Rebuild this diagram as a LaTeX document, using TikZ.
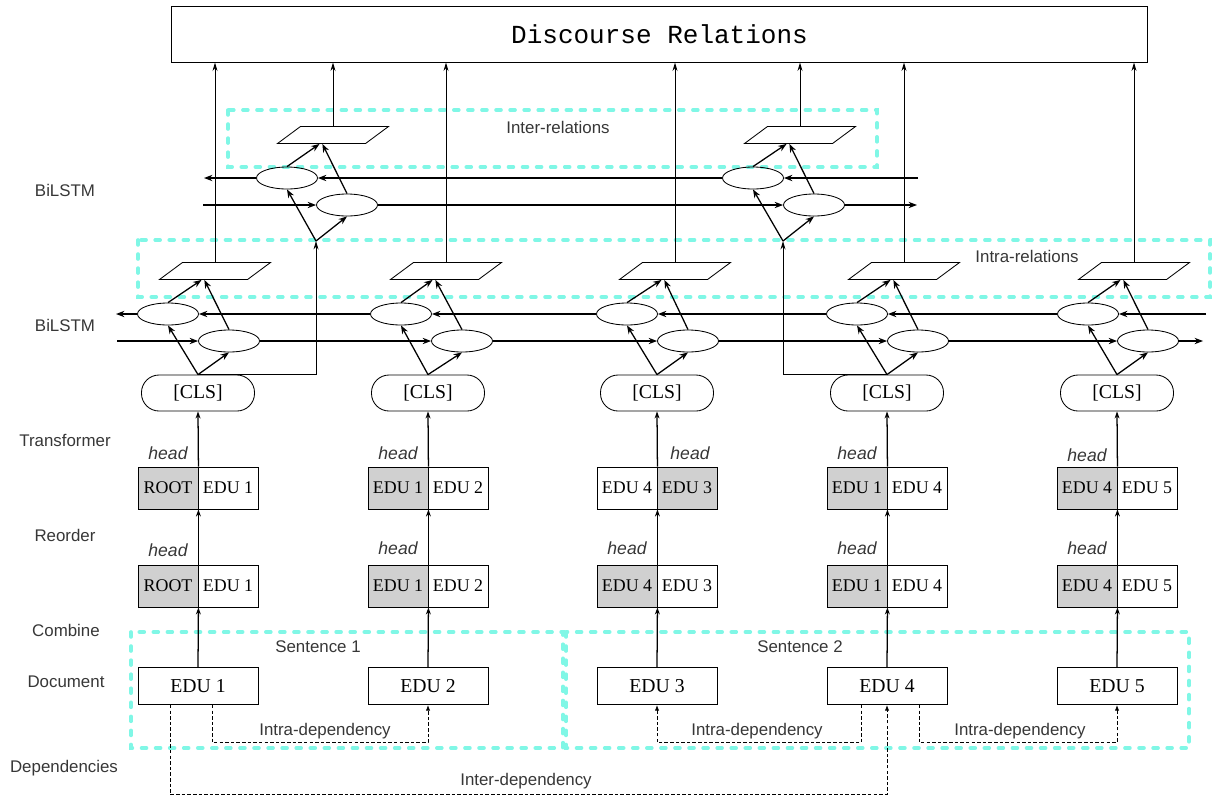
\documentclass[tikz,border=0pt]{standalone}
\usepackage{fontspec}
\setmainfont{Liberation Serif}
\setsansfont{Liberation Sans}
\setmonofont{Liberation Mono}
\usepackage{tikz}
\usetikzlibrary{positioning, fit, arrows.meta, shapes}
\usepackage{xcolor}
\definecolor{turq}{RGB}{128,247,230}
\definecolor{labgray}{RGB}{55,55,55}
\definecolor{headgray}{RGB}{208,208,208}

\begin{document}
\begin{tikzpicture}[
		% GLOBAL CFG
		x=0.025cm, y=-0.025cm,
		font=\rmfamily,
		>={Stealth[length=6pt,width=4.5pt]},
		% Styles
		title/.style={% The output box
			rectangle,
			draw,
			line width=0.7pt,
			minimum width=24.375cm,
			minimum height=1.4cm,
			font=\ttfamily\fontsize{18.5}{20}\selectfont,
		},
		cell/.style={% One half of a pair
			rectangle,
			draw,
			line width=0.6pt,
			minimum width=1.5cm,
			minimum height=1.05cm,
			inner sep=0pt,
			font=\fontsize{12.7}{14}\selectfont,
		},
		hcell/.style={% The head half of a pair
			cell,
			fill=headgray,
		},
		edu/.style={% Document units
			rectangle,
			draw,
			line width=0.6pt,
			minimum width=3cm,
			minimum height=0.925cm,
			font=\fontsize{14}{16}\selectfont,
		},
		cls/.style={% Transformer outputs
			rectangle,
			rounded corners=12.5pt,
			draw,
			line width=0.6pt,
			minimum width=2.825cm,
			minimum height=0.9cm,
			font=\fontsize{14}{16}\selectfont,
		},
		lstm/.style={% BiLSTM cells
			ellipse,
			draw,
			line width=0.6pt,
			minimum width=1.525cm,
			minimum height=0.55cm,
			inner sep=0pt,
		},
		para/.style={% Relation layers, a slanted box
			rectangle,
			xslant=1.35,
			draw,
			line width=0.6pt,
			minimum width=2.2cm,
			minimum height=0.425cm,
			inner sep=0pt,
		},
		group/.style={% Cyan dashed frames
			draw=turq,
			line width=2.6pt,
			dash pattern=on 3.5pt off 6.5pt,
			line cap=round,
		},
		lab/.style={% Grey sans labels
			font=\sffamily\fontsize{12}{14}\selectfont,
			text=labgray,
		},
		headlab/.style={%
			font=\sffamily\itshape\fontsize{12.5}{14}\selectfont,
			text=labgray,
		},
		Rnn/.style={% BiLSTM arrows
			line width=0.9pt,
			->,
		},
		UpArrow/.style={% Pipeline arrows
			line width=0.9pt,
			-{Stealth[length=5pt,width=3.5pt]},
		},
		OutArrow/.style={% Arrows to the output box
			line width=0.7pt,
			-{Stealth[length=6pt,width=3.5pt]},
		},
		dep/.style={% Dependency arrows
			line width=0.6pt,
			dash pattern=on 2.5pt off 1.5pt,
			-{Latex[length=4pt,width=3pt]},
		},
		]
		\useasboundingbox (0,0) rectangle (1214,796);
		
		% Output box
		\node [title] (rel) at (659.5,34) {Discourse Relations};
		
		% Row labels named lbl#
		\node [lab] (lbl1) at (65,190) {BiLSTM};
		\node [lab] (lbl2) at (65,325) {BiLSTM};
		\node [lab] (lbl3) at (65,440) {Transformer};
		\node [lab] (lbl4) at (65,535) {Reorder};
		\node [lab] (lbl5) at (66,630) {Combine};
		\node [lab] (lbl6) at (66,682) {Document};
		\node [lab] (lbl7) at (64,768) {Dependencies};
		
		% Dashed frames
		\draw [group] (228,110) rectangle (877,167);
		\draw [group] (138,240) rectangle (1210,297);
		\draw [group] (131,632) rectangle (563,748);
		\draw [group] (566,632) rectangle (1189,748);
		\node [lab] (inter) at (558,127) {Inter-relations};
		\node [lab] (intra) at (1027,256) {Intra-relations};
		\node [lab] (sen1) at (318,647) {Sentence 1};
		\node [lab] (sen2) at (800,647) {Sentence 2};
		
		% Document EDUs named e#
		\node [edu] (e1) at (198,686) {EDU 1};
		\node [edu] (e2) at (428,686) {EDU 2};
		\node [edu] (e3) at (657,686) {EDU 3};
		\node [edu] (e4) at (887,686) {EDU 4};
		\node [edu] (e5) at (1117,686) {EDU 5};
		
		% Reordered pairs named ra# (left) and rb# (right)
		\node [hcell] (ra1) at (168,586) {ROOT};
		\node [cell] (rb1) at (228,586) {EDU 1};
		\node [hcell] (ra2) at (398,586) {EDU 1};
		\node [cell] (rb2) at (458,586) {EDU 2};
		\node [hcell] (ra3) at (627,586) {EDU 4};
		\node [cell] (rb3) at (687,586) {EDU 3};
		\node [hcell] (ra4) at (857,586) {EDU 1};
		\node [cell] (rb4) at (917,586) {EDU 4};
		\node [hcell] (ra5) at (1087,586) {EDU 4};
		\node [cell] (rb5) at (1147,586) {EDU 5};
		
		% Transformer pairs named ta# and tb#
		\node [hcell] (ta1) at (168,488) {ROOT};
		\node [cell] (tb1) at (228,488) {EDU 1};
		\node [hcell] (ta2) at (398,488) {EDU 1};
		\node [cell] (tb2) at (458,488) {EDU 2};
		\node [cell] (ta3) at (627,488) {EDU 4};
		\node [hcell] (tb3) at (687,488) {EDU 3};
		\node [hcell] (ta4) at (857,488) {EDU 1};
		\node [cell] (tb4) at (917,488) {EDU 4};
		\node [hcell] (ta5) at (1087,488) {EDU 4};
		\node [cell] (tb5) at (1147,488) {EDU 5};
		
		% head marks
		\node [headlab] (h1) at (168,550) {head};
		\node [headlab] (h2) at (398,548) {head};
		\node [headlab] (h3) at (627,548) {head};
		\node [headlab] (h4) at (857,548) {head};
		\node [headlab] (h5) at (1087,548) {head};
		\node [headlab] (h6) at (168,453) {head};
		\node [headlab] (h7) at (398,453) {head};
		\node [headlab] (h8) at (690,453) {head};
		\node [headlab] (h9) at (857,453) {head};
		\node [headlab] (h10) at (1087,455) {head};
		
		% CLS tokens
		\node [cls] (cls1) at (198,393) {[CLS]};
		\node [cls] (cls2) at (428,393) {[CLS]};
		\node [cls] (cls3) at (657,393) {[CLS]};
		\node [cls] (cls4) at (887,393) {[CLS]};
		\node [cls] (cls5) at (1117,393) {[CLS]};
		
		% Lower BiLSTM: b# backward, f# forward, p# intra layer
		\node [lstm] (b1) at (168,314) {};
		\node [lstm] (f1) at (229,341) {};
		\node [lstm] (b2) at (401,314) {};
		\node [lstm] (f2) at (462,341) {};
		\node [lstm] (b3) at (627,314) {};
		\node [lstm] (f3) at (688,341) {};
		\node [lstm] (b4) at (857,314) {};
		\node [lstm] (f4) at (918,341) {};
		\node [lstm] (b5) at (1088,314) {};
		\node [lstm] (f5) at (1148,341) {};
		\node [para] (p1) at (215,271) {};
		\node [para] (p2) at (446,271) {};
		\node [para] (p3) at (675,271) {};
		\node [para] (p4) at (904,271) {};
		\node [para] (p5) at (1134,271) {};
		
		% Upper BiLSTM: ub#, uf#, up#
		\node [lstm] (ub1) at (287,178) {};
		\node [lstm] (uf1) at (347,205) {};
		\node [lstm] (ub2) at (753,178) {};
		\node [lstm] (uf2) at (814,205) {};
		\node [para] (up1) at (333,135) {};
		\node [para] (up2) at (800,135) {};
		
		% Free ends
		\coordinate (in1) at (316,241);
		\coordinate (in2) at (783,241);
		\coordinate (bR) at (1206,314);
		\coordinate (bL) at (116,314);
		\coordinate (fL) at (117,341);
		\coordinate (fR) at (1203,341);
		\coordinate (ubR) at (918,178);
		\coordinate (ubL) at (204,178);
		\coordinate (ufL) at (203,205);
		\coordinate (ufR) at (917,205);
		
		% Pipeline
		\draw [UpArrow] (e1.north) -- (ra1.south east);
		\draw [UpArrow] (e2.north) -- (ra2.south east);
		\draw [UpArrow] (e3.north) -- (ra3.south east);
		\draw [UpArrow] (e4.north) -- (ra4.south east);
		\draw [UpArrow] (e5.north) -- (ra5.south east);
		\draw [UpArrow] (ra1.north east) -- (ta1.south east);
		\draw [UpArrow] (ra2.north east) -- (ta2.south east);
		\draw [UpArrow] (ra3.north east) -- (ta3.south east);
		\draw [UpArrow] (ra4.north east) -- (ta4.south east);
		\draw [UpArrow] (ra5.north east) -- (ta5.south east);
		\draw [UpArrow] (ta1.north east) -- (cls1.south);
		\draw [UpArrow] (ta2.north east) -- (cls2.south);
		\draw [UpArrow] (ta3.north east) -- (cls3.south);
		\draw [UpArrow] (ta4.north east) -- (cls4.south);
		\draw [UpArrow] (ta5.north east) -- (cls5.south);
		
		% Lower BiLSTM inputs and outputs
		\draw [Rnn] (cls1.north) -- (b1.south);
		\draw [Rnn] (cls1.north) -- (f1.south);
		\draw [Rnn] (cls2.north) -- (b2.south);
		\draw [Rnn] (cls2.north) -- (f2.south);
		\draw [Rnn] (cls3.north) -- (b3.south);
		\draw [Rnn] (cls3.north) -- (f3.south);
		\draw [Rnn] (cls4.north) -- (b4.south);
		\draw [Rnn] (cls4.north) -- (f4.south);
		\draw [Rnn] (cls5.north) -- (b5.south);
		\draw [Rnn] (cls5.north) -- (f5.south);
		\draw [Rnn] (b1.north) -- ([xshift=-1pt]p1.south);
		\draw [Rnn] (f1.north) -- ([xshift=1pt]p1.south);
		\draw [Rnn] (b2.north) -- ([xshift=-1pt]p2.south);
		\draw [Rnn] (f2.north) -- ([xshift=1pt]p2.south);
		\draw [Rnn] (b3.north) -- ([xshift=-1pt]p3.south);
		\draw [Rnn] (f3.north) -- ([xshift=1pt]p3.south);
		\draw [Rnn] (b4.north) -- ([xshift=-1pt]p4.south);
		\draw [Rnn] (f4.north) -- ([xshift=1pt]p4.south);
		\draw [Rnn] (b5.north) -- ([xshift=-1pt]p5.south);
		\draw [Rnn] (f5.north) -- ([xshift=1pt]p5.south);
		
		% Lower BiLSTM chains
		\draw [Rnn] (bR) -- (b5);
		\draw [Rnn] (b5) -- (b4);
		\draw [Rnn] (b4) -- (b3);
		\draw [Rnn] (b3) -- (b2);
		\draw [Rnn] (b2) -- (b1);
		\draw [Rnn] (b1) -- (bL);
		\draw [Rnn] (fL) -- (f1);
		\draw [Rnn] (f1) -- (f2);
		\draw [Rnn] (f2) -- (f3);
		\draw [Rnn] (f3) -- (f4);
		\draw [Rnn] (f4) -- (f5);
		\draw [Rnn] (f5) -- (fR);
		
		% Upper BiLSTM
		\draw [OutArrow] (cls1.north) -| (in1);
		\draw [OutArrow] (cls4.north) -| (in2);
		\draw [Rnn] (in1) -- (ub1.south);
		\draw [Rnn] (in1) -- (uf1.south);
		\draw [Rnn] (in2) -- (ub2.south);
		\draw [Rnn] (in2) -- (uf2.south);
		\draw [Rnn] (ub1.north) -- ([xshift=-1pt]up1.south);
		\draw [Rnn] (uf1.north) -- ([xshift=1pt]up1.south);
		\draw [Rnn] (ub2.north) -- ([xshift=-1pt]up2.south);
		\draw [Rnn] (uf2.north) -- ([xshift=1pt]up2.south);
		\draw [Rnn] (ubR) -- (ub2);
		\draw [Rnn] (ub2) -- (ub1);
		\draw [Rnn] (ub1) -- (ubL);
		\draw [Rnn] (ufL) -- (uf1);
		\draw [Rnn] (uf1) -- (uf2);
		\draw [Rnn] (uf2) -- (ufR);
		
		% Outputs
		\draw [OutArrow] (p1.center |- p1.north) -- (p1.center |- rel.south);
		\draw [OutArrow] (up1.center |- up1.north) -- (up1.center |- rel.south);
		\draw [OutArrow] (p2.center |- p2.north) -- (p2.center |- rel.south);
		\draw [OutArrow] (p3.center |- p3.north) -- (p3.center |- rel.south);
		\draw [OutArrow] (up2.center |- up2.north) -- (up2.center |- rel.south);
		\draw [OutArrow] (p4.center |- p4.north) -- (p4.center |- rel.south);
		\draw [OutArrow] (p5.center |- p5.north) -- (p5.center |- rel.south);
		
		% Dependencies
		\draw [dep] ([xshift=0.35cm]e1.south) -- ++(0,37.5) -| (e2.south);
		\draw [dep] ([xshift=-0.65cm]e4.south) -- ++(0,37.5) -| (e3.south);
		\draw [dep] ([xshift=0.8cm]e4.south) -- ++(0,37.5) -| (e5.south);
		\draw [dep] ([xshift=-0.7cm]e1.south) -- ++(0,89.5) -| (e4.south);
		\node [lab] (dl1) at (325,731) {Intra-dependency};
		\node [lab] (dl2) at (757,731) {Intra-dependency};
		\node [lab] (dl3) at (1020,731) {Intra-dependency};
		\node [lab] (dl4) at (526,781) {Inter-dependency};
		
	\end{tikzpicture}
\end{document}
